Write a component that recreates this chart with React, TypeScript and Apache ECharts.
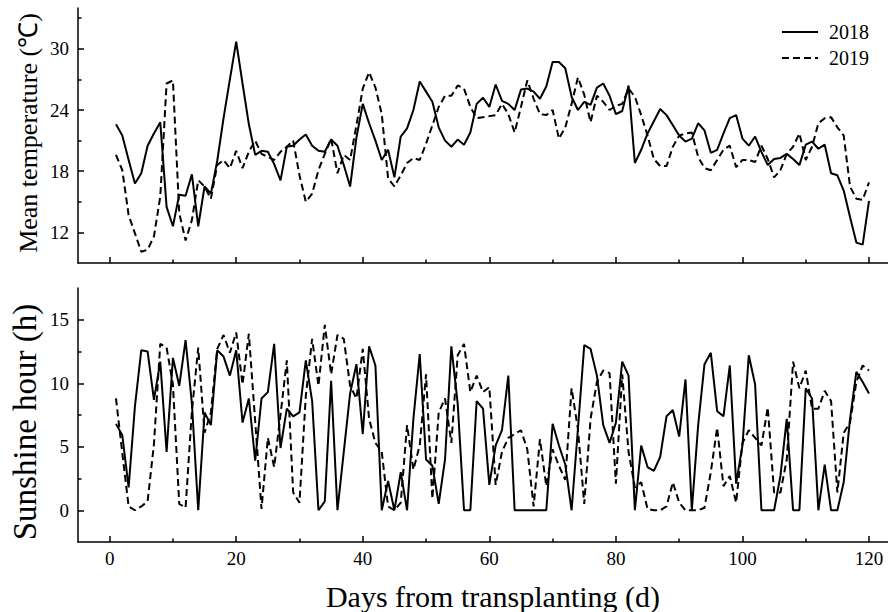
import React, { useEffect, useRef } from "react";
import * as echarts from "echarts";

const days = [
  1, 2, 3, 4, 5, 6, 7, 8, 9, 10, 11, 12, 13, 14, 15, 16, 17, 18, 19, 20,
  21, 22, 23, 24, 25, 26, 27, 28, 29, 30, 31, 32, 33, 34, 35, 36, 37, 38, 39, 40,
  41, 42, 43, 44, 45, 46, 47, 48, 49, 50, 51, 52, 53, 54, 55, 56, 57, 58, 59, 60,
  61, 62, 63, 64, 65, 66, 67, 68, 69, 70, 71, 72, 73, 74, 75, 76, 77, 78, 79, 80,
  81, 82, 83, 84, 85, 86, 87, 88, 89, 90, 91, 92, 93, 94, 95, 96, 97, 98, 99, 100,
  101, 102, 103, 104, 105, 106, 107, 108, 109, 110, 111, 112, 113, 114, 115, 116, 117, 118, 119, 120,
];

const temp2018 = [
  22.6, 21.5, 19.1, 16.8, 17.8, 20.5, 21.7, 22.8, 14.5, 12.6,
  15.7, 15.6, 17.7, 12.6, 16.5, 15.8, 19.0, 23.2, 27.0, 30.7,
  26.6, 22.6, 19.6, 20.0, 19.9, 18.7, 17.1, 20.4, 20.5, 21.1,
  21.6, 20.5, 20.0, 19.9, 21.1, 20.5, 18.6, 16.5, 21.3, 24.6,
  22.7, 21.0, 19.1, 20.1, 17.4, 21.4, 22.2, 24.0, 26.8, 25.8,
  24.8, 22.3, 21.0, 20.4, 21.1, 20.6, 21.8, 24.6, 25.2, 24.3,
  26.5, 24.9, 24.6, 24.0, 26.0, 26.1, 25.8, 25.1, 26.3, 28.7,
  28.7, 28.1, 25.3, 24.0, 24.8, 24.5, 26.2, 26.6, 25.4, 23.6,
  23.9, 26.4, 18.8, 20.1, 21.7, 22.9, 24.1, 23.5, 22.5, 21.5,
  20.9, 21.2, 22.7, 22.0, 19.8, 20.1, 21.7, 23.2, 23.5, 21.2,
  20.5, 21.4, 19.9, 18.6, 19.2, 19.3, 19.7, 19.2, 18.6, 20.6,
  20.9, 20.2, 20.6, 17.8, 17.6, 16.1, 13.5, 11.0, 10.8, 15.1,
];

const temp2019 = [
  19.6, 18.1, 13.7, 11.9, 10.1, 10.3, 11.6, 15.5, 26.6, 26.9,
  13.9, 11.2, 13.2, 17.1, 16.5, 15.3, 18.6, 19.1, 18.3, 20.0,
  18.3, 19.9, 21.0, 19.7, 19.4, 19.1, 19.9, 20.4, 21.0, 17.6,
  15.0, 15.8, 18.1, 19.7, 21.2, 17.8, 19.6, 19.1, 22.5, 26.1,
  27.7, 26.2, 23.6, 17.3, 16.5, 17.6, 18.8, 19.3, 19.1, 20.7,
  22.5, 24.3, 25.4, 25.4, 26.4, 26.1, 24.3, 23.2, 23.3, 23.4,
  23.5, 24.6, 23.6, 21.8, 24.3, 26.9, 25.1, 23.6, 23.5, 24.0,
  21.2, 22.3, 24.6, 27.2, 25.5, 22.8, 25.4, 24.8, 24.0, 24.4,
  24.6, 26.1, 25.3, 23.5, 21.5, 19.2, 18.5, 18.5, 20.4, 21.5,
  21.7, 21.8, 19.4, 18.3, 18.1, 19.1, 20.1, 20.5, 18.4, 19.1,
  19.1, 18.9, 20.5, 19.2, 17.4, 18.1, 19.7, 20.4, 21.7, 19.1,
  20.4, 22.7, 23.2, 23.3, 22.3, 21.5, 16.5, 15.3, 15.2, 16.9,
];

const sun2018 = [
  6.8, 5.9, 1.8, 8.2, 12.6, 12.5, 8.7, 11.7, 4.6, 12.0,
  9.8, 13.4, 8.4, 0, 7.7, 6.7, 12.6, 12.1, 10.6, 12.6,
  6.9, 8.8, 3.9, 8.8, 9.3, 13.1, 4.9, 8.0, 7.4, 7.7,
  11.8, 8.6, 0, 0.7, 10.2, 0, 4.6, 9.2, 11.5, 6.0,
  12.9, 11.4, 0, 2.3, 0, 3.0, 0, 7.2, 12.3, 4.0,
  3.5, 0.5, 4.0, 12.9, 8.4, 0, 0, 8.6, 8.0, 2.0,
  5.1, 6.3, 10.6, 0, 0, 0, 0, 0, 0, 6.8,
  5.1, 3.6, 0, 6.4, 13.0, 12.7, 10.6, 6.7, 5.3, 6.9,
  11.7, 10.6, 0, 5.1, 3.4, 3.1, 4.2, 7.4, 7.9, 5.8,
  10.3, 0, 6.7, 11.5, 12.4, 7.8, 7.4, 11.4, 2.1, 5.1,
  12.2, 9.9, 0, 0, 0, 2.7, 7.2, 0, 0, 9.6,
  8.8, 0, 3.6, 0, 0, 2.2, 7.2, 10.9, 10.1, 9.2,
];

const sun2019 = [
  8.8, 4.5, 0.3, 0, 0.3, 0.7, 5.2, 13.1, 12.8, 9.9,
  0.5, 0.2, 7.8, 12.8, 6.1, 7.7, 12.7, 13.8, 12.4, 14.0,
  9.9, 13.9, 7.0, 0.1, 5.7, 3.4, 7.5, 11.8, 1.4, 0.6,
  9.0, 13.5, 9.8, 14.6, 10.7, 13.8, 13.5, 9.8, 8.8, 12.7,
  7.2, 5.3, 4.6, 0.3, 0, 0.6, 6.7, 3.2, 5.1, 10.7,
  0.9, 7.7, 8.8, 5.3, 12.2, 13.1, 9.3, 10.6, 9.3, 9.7,
  2.0, 4.6, 5.7, 6.0, 6.3, 4.8, 0.3, 5.6, 1.9, 4.8,
  3.5, 2.4, 9.6, 6.4, 0.5, 7.2, 10.1, 11.0, 10.8, 2.1,
  10.7, 4.6, 1.8, 2.2, 0.1, 0, 0, 0.3, 2.2, 0.6,
  0, 0, 0, 0.2, 3.0, 6.5, 1.9, 2.7, 0.6, 5.3,
  6.3, 5.7, 5.1, 8.1, 1.4, 1.4, 4.0, 11.7, 9.6, 11.0,
  8.0, 8.0, 9.4, 8.6, 1.4, 6.1, 6.9, 10.1, 11.4, 11.0,
];

const dayTicks = [0, 20, 40, 60, 80, 100, 120];
const dayMinorTicks = [10, 30, 50, 70, 90, 110];
const tempTicks = [12, 18, 24, 30];
const tempMinorTicks = [15, 21, 27, 33];
const sunTicks = [0, 5, 10, 15];
const sunMinorTicks = [2.5, 7.5, 12.5];
const seriesNames = ["2018", "2019"];

const FONT = "'Liberation Serif', 'Times New Roman', serif";
const INK = "#000";
const DASH = [7, 4];
const X_MIN = -5;
const X_MAX = 123;
const T_MIN = 9;
const T_MAX = 34;
const S_MIN = -2.5;
const S_MAX = 17.5;

function majorAxis(gridIndex: number, min: number, max: number, ticks: number[], pos: string) {
  return {
    type: "value",
    gridIndex,
    min,
    max,
    position: pos,
    splitLine: { show: false },
    axisLine: { show: true, onZero: false, lineStyle: { color: INK, width: 1.5 } },
    axisTick: { show: true, inside: true, length: 6, customValues: ticks, lineStyle: { color: INK, width: 1.5 } },
    axisLabel: { show: false, customValues: ticks },
  };
}

function minorAxis(gridIndex: number, min: number, max: number, ticks: number[], pos: string) {
  return {
    type: "value",
    gridIndex,
    min,
    max,
    position: pos,
    splitLine: { show: false },
    axisLine: { show: false, onZero: false },
    axisTick: { show: true, inside: true, length: 3.5, customValues: ticks, lineStyle: { color: INK, width: 1.5 } },
    axisLabel: { show: false, customValues: ticks },
  };
}

function lineSeries(name: string, values: number[], xi: number, yi: number, dashed: boolean) {
  return {
    name,
    type: "line",
    xAxisIndex: xi,
    yAxisIndex: yi,
    symbol: "none",
    showSymbol: false,
    data: days.map((d, i) => [d, values[i]]),
    lineStyle: { color: INK, width: 2, type: dashed ? DASH : "solid" },
    itemStyle: { color: INK },
  };
}

function label(text: string, x: number, y: number, align: string, vAlign: string, size: number) {
  return {
    type: "text",
    x,
    y,
    silent: true,
    style: { text, fill: INK, font: size + "px " + FONT, textAlign: align, textVerticalAlign: vAlign },
  };
}

export default function App() {
  const ref = useRef<HTMLDivElement>(null);
  useEffect(() => {
    if (!ref.current) return;
    const chart = echarts.init(ref.current, null, { renderer: "svg" });
    chart.setOption({
      animation: false,
      backgroundColor: "#fff",
      grid: [
        { left: 78, top: 8, width: 810, height: 255 },
        { left: 78, top: 288, width: 810, height: 254 },
      ],
      xAxis: [
        majorAxis(0, X_MIN, X_MAX, dayTicks, "bottom"),
        minorAxis(0, X_MIN, X_MAX, dayMinorTicks, "bottom"),
        majorAxis(1, X_MIN, X_MAX, dayTicks, "bottom"),
        minorAxis(1, X_MIN, X_MAX, dayMinorTicks, "bottom"),
      ],
      yAxis: [
        majorAxis(0, T_MIN, T_MAX, tempTicks, "left"),
        minorAxis(0, T_MIN, T_MAX, tempMinorTicks, "left"),
        majorAxis(1, S_MIN, S_MAX, sunTicks, "left"),
        minorAxis(1, S_MIN, S_MAX, sunMinorTicks, "left"),
      ],
      series: [
        lineSeries(seriesNames[0], temp2018, 0, 0, false),
        lineSeries(seriesNames[1], temp2019, 0, 0, true),
        lineSeries(seriesNames[0], sun2018, 2, 2, false),
        lineSeries(seriesNames[1], sun2019, 2, 2, true),
      ],
    });

    // tick labels placed through the axes' own scales
    const tickLabels: any[] = [];
    tempTicks.forEach((v) => {
      const p = chart.convertToPixel({ xAxisIndex: 0, yAxisIndex: 0 }, [X_MIN, v]) as number[];
      tickLabels.push(label(String(v), p[0] - 9, p[1], "right", "middle", 19));
    });
    sunTicks.forEach((v) => {
      const p = chart.convertToPixel({ xAxisIndex: 2, yAxisIndex: 2 }, [X_MIN, v]) as number[];
      tickLabels.push(label(String(v), p[0] - 9, p[1], "right", "middle", 19));
    });
    dayTicks.forEach((v) => {
      const p = chart.convertToPixel({ xAxisIndex: 2, yAxisIndex: 2 }, [v, S_MIN]) as number[];
      tickLabels.push(label(String(v), p[0], p[1] + 7, "center", "top", 19));
    });

    chart.setOption({
      graphic: [
        ...tickLabels,
        {
          type: "line",
          shape: { x1: 782, y1: 32, x2: 818, y2: 32 },
          style: { stroke: INK, lineWidth: 2 },
        },
        {
          type: "line",
          shape: { x1: 782, y1: 58, x2: 818, y2: 58 },
          style: { stroke: INK, lineWidth: 2, lineDash: DASH },
        },
        label(seriesNames[0], 829, 32, "left", "middle", 20),
        label(seriesNames[1], 829, 58, "left", "middle", 20),
        {
          type: "text",
          x: 28,
          y: 133,
          rotation: Math.PI / 2,
          style: {
            text: "Mean temperature (℃)",
            fill: INK,
            font: "26px " + FONT,
            textAlign: "center",
            textVerticalAlign: "middle",
          },
        },
        {
          type: "text",
          x: 25,
          y: 422,
          rotation: Math.PI / 2,
          style: {
            text: "Sunshine hour (h)",
            fill: INK,
            font: "33px " + FONT,
            textAlign: "center",
            textVerticalAlign: "middle",
          },
        },
        label("Days from transplanting (d)", 493, 596, "center", "middle", 30),
      ],
    });
    return () => chart.dispose();
  }, []);
  return (
    <div
      ref={ref}
      style={{ position: "fixed", left: 0, top: 0, width: 888, height: 612, background: "#fff" }}
    />
  );
}
